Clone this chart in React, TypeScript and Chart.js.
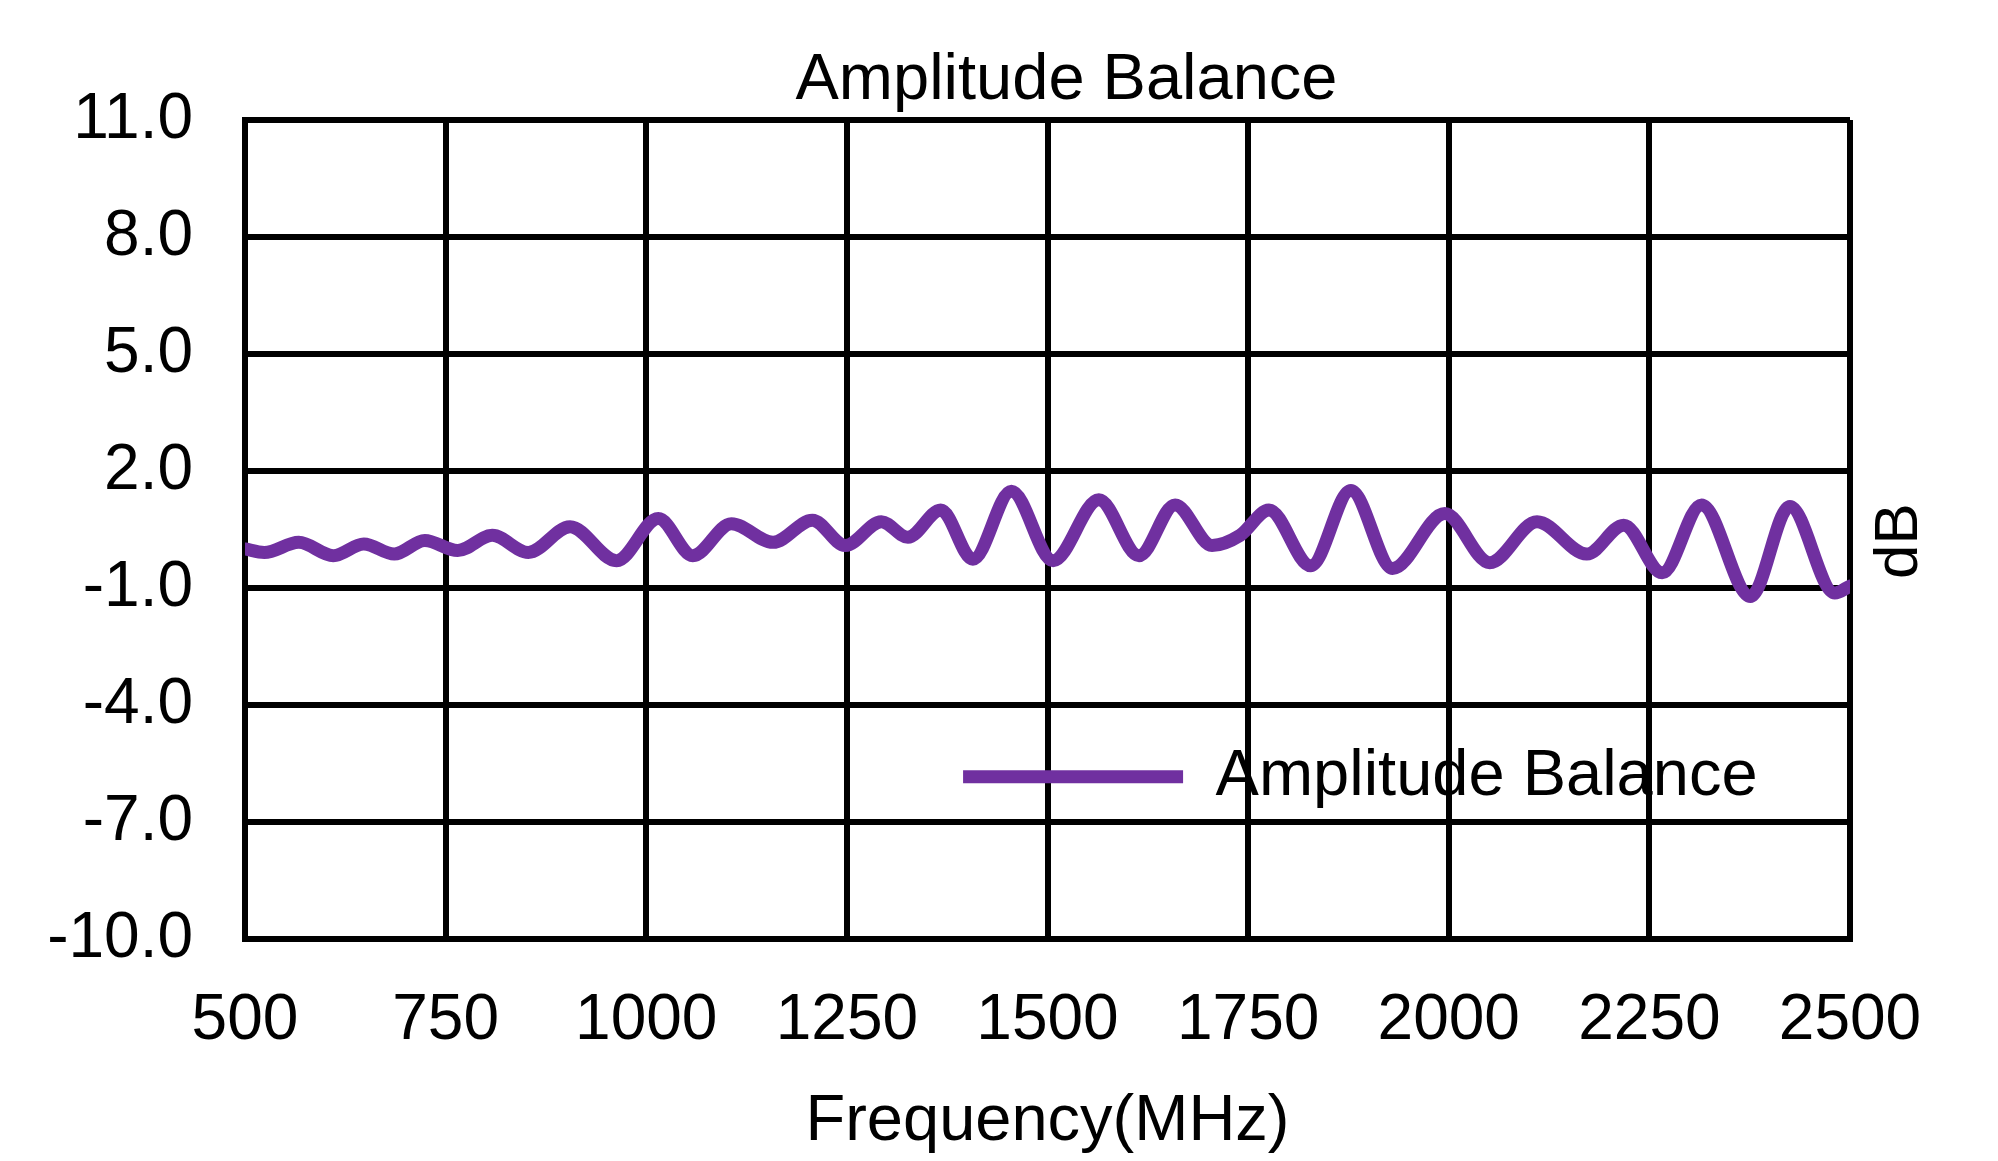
import { useEffect, useRef } from 'react';
import { Chart, registerables } from 'chart.js';

Chart.register(...registerables);

const chartTitle = 'Amplitude Balance';
const seriesLabel = 'Amplitude Balance';
const xAxisTitle = 'Frequency(MHz)';
const yAxisTitle = 'dB';

const X_MIN = 500;
const X_MAX = 2500;
const X_STEP = 250;
const Y_MIN = -10;
const Y_MAX = 11;
const Y_STEP = 3;

const frequencies = [
  500, 524, 567, 610, 648, 686, 724, 765, 808, 853, 905, 963, 1015, 1058, 1106,
  1158, 1207, 1248, 1293, 1326, 1367, 1407, 1455, 1507, 1564, 1614, 1659, 1705,
  1740, 1776, 1828, 1878, 1930, 1995, 2051, 2110, 2172, 2218, 2266, 2315, 2376,
  2425, 2481, 2500,
];
const balance = [
  0.0, -0.09, 0.17, -0.17, 0.13, -0.13, 0.22, -0.04, 0.35, -0.09, 0.57, -0.3,
  0.78, -0.17, 0.65, 0.17, 0.74, 0.09, 0.7, 0.3, 1.0, -0.26, 1.48, -0.3, 1.26,
  -0.17, 1.13, 0.09, 0.35, 1.0, -0.43, 1.5, -0.5, 0.91, -0.35, 0.7, -0.13, 0.61,
  -0.61, 1.13, -1.22, 1.09, -1.13, -0.95,
];

const FONT = '"Liberation Sans", Arial, sans-serif';
const PURPLE = '#7030A0';

const layoutTweaks = {
  id: 'layoutTweaks',
  afterLayout(chart: any) {
    const ca = chart.chartArea;
    const w = ca.right - ca.left;
    const h = ca.bottom - ca.top;
    const lg = chart.legend;
    if (lg) {
      const pad = lg.options.labels.padding;
      const fs = lg.options.labels.font.size;
      lg.left = ca.left + 0.4474 * w - pad;
      lg.top = ca.top + 0.802 * h - fs / 2 - pad;
      lg.right = lg.left + lg.width;
      lg.bottom = lg.top + lg.height;
    }
    const tb = chart.titleBlock;
    if (tb) {
      tb.left += 19;
      tb.right += 19;
    }
  },
  afterDraw(chart: any) {
    const ca = chart.chartArea;
    const ctx = chart.ctx;
    ctx.save();
    ctx.translate(ca.right + 50, ca.top + 0.514 * (ca.bottom - ca.top));
    ctx.rotate(-Math.PI / 2);
    ctx.textAlign = 'center';
    ctx.textBaseline = 'middle';
    ctx.fillStyle = '#000';
    ctx.font = `62px ${FONT}`;
    ctx.fillText(yAxisTitle, 0, 0);
    ctx.restore();
  },
};

export default function App() {
  const ref = useRef<HTMLCanvasElement | null>(null);

  useEffect(() => {
    if (!ref.current) return;
    const points = frequencies.map((f, i) => ({ x: f, y: balance[i] }));
    const chart = new Chart(ref.current, {
      type: 'line',
      data: {
        datasets: [
          {
            label: seriesLabel,
            data: points,
            borderColor: PURPLE,
            backgroundColor: PURPLE,
            borderWidth: 13,
            borderCapStyle: 'round',
            borderJoinStyle: 'round',
            pointRadius: 0,
            cubicInterpolationMode: 'monotone',
            tension: 0.4,
          } as any,
        ],
      },
      options: {
        animation: false,
        responsive: false,
        devicePixelRatio: 1,
        color: '#000',
        layout: { padding: { left: 0, right: 148, top: 0, bottom: 0 } },
        plugins: {
          title: {
            display: true,
            text: chartTitle,
            fullSize: false,
            color: '#000',
            font: { family: FONT, size: 65, weight: 'normal' },
            padding: { top: 42, bottom: 0 },
          },
          legend: {
            display: true,
            position: 'chartArea',
            align: 'start',
            labels: {
              usePointStyle: true,
              pointStyle: 'line',
              pointStyleWidth: 220,
              padding: 10,
              color: '#000',
              font: { family: FONT, size: 65 },
            },
          } as any,
          tooltip: { enabled: false },
        },
        scales: {
          x: {
            type: 'linear',
            min: X_MIN,
            max: X_MAX,
            afterFit(scale: any) {
              scale.height = 222;
            },
            ticks: {
              stepSize: X_STEP,
              padding: 44,
              color: '#000',
              maxRotation: 0,
              font: { family: FONT, size: 64 },
              callback: (v: any) => String(v),
            },
            grid: { color: '#000', lineWidth: 6, drawTicks: false },
            border: { display: true, color: '#000', width: 6 },
            title: {
              display: true,
              text: xAxisTitle,
              color: '#000',
              font: { family: FONT, size: 65 },
              padding: { top: 0, bottom: 0 },
            },
          },
          y: {
            type: 'linear',
            min: Y_MIN,
            max: Y_MAX,
            afterFit(scale: any) {
              scale.width = 245;
            },
            ticks: {
              stepSize: Y_STEP,
              padding: 52,
              color: '#000',
              font: { family: FONT, size: 64 },
              callback: (v: any) => Number(v).toFixed(1),
            },
            grid: { color: '#000', lineWidth: 6, drawTicks: false },
            border: { display: true, color: '#000', width: 6 },
          },
        },
      },
      plugins: [layoutTweaks],
    } as any);
    return () => chart.destroy();
  }, []);

  return (
    <div style={{ position: 'fixed', left: 0, top: 0, width: 1998, height: 1161, background: '#fff' }}>
      <canvas ref={ref} width={1998} height={1161} style={{ width: 1998, height: 1161, display: 'block' }} />
    </div>
  );
}
